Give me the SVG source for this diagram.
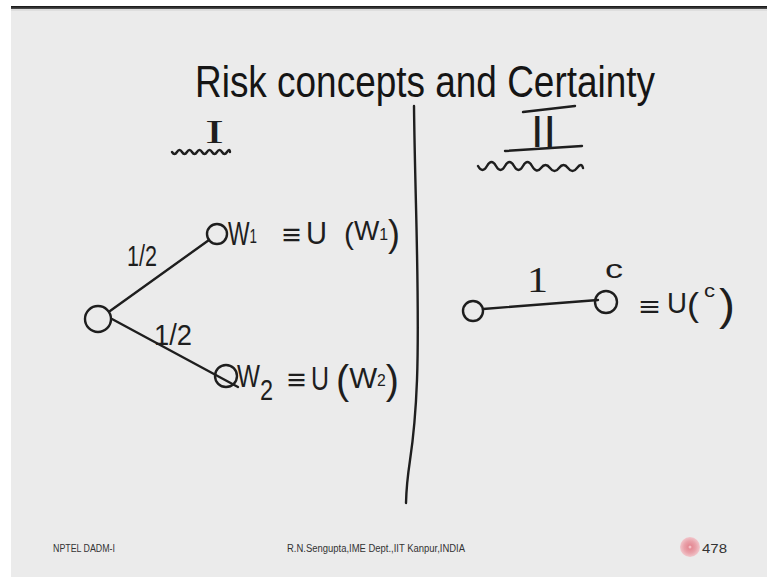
<svg xmlns="http://www.w3.org/2000/svg" width="767" height="578" viewBox="0 0 767 578">
<defs>
<style>
.ink{fill:none;stroke:#1e1e1e;stroke-width:2.4;stroke-linecap:round;stroke-linejoin:round}
.hw{font-family:"Liberation Sans","DejaVu Sans",sans-serif;fill:#1e1e1e}
.hs{font-family:"Liberation Serif","DejaVu Serif",serif;fill:#1e1e1e}
.ft{font-family:"Liberation Sans",Arial,sans-serif;fill:#333}
.tt{font-family:"Liberation Sans",Arial,sans-serif;fill:#151515;font-size:44px}
</style>
<radialGradient id="pg" cx="0.5" cy="0.5" r="0.5">
<stop offset="0" stop-color="#e27f8a"/>
<stop offset="0.6" stop-color="#e9a2aa"/>
<stop offset="1" stop-color="#f1c6cb"/>
</radialGradient>
<linearGradient id="tb" x1="0" y1="0" x2="0" y2="1">
<stop offset="0" stop-color="#111"/>
<stop offset="1" stop-color="#555"/>
</linearGradient>
</defs>
<rect x="0" y="0" width="767" height="578" fill="#ffffff"/>
<rect x="11" y="6" width="756" height="571" fill="#ebebeb"/>
<rect x="11" y="6" width="756" height="3" fill="url(#tb)"/>
<rect x="11" y="9" width="756" height="2" fill="#dedede"/>

<g id="title">
<text class="tt" x="195" y="97" textLength="460" lengthAdjust="spacingAndGlyphs">Risk concepts and Certainty</text>
</g>

<g id="divider">
<path class="ink" d="M414,106 C415,200 420,300 417,380 S407,460 406,503"/>
</g>

<g id="header-I">
<text class="hs" x="205" y="143" font-size="34" textLength="19" lengthAdjust="spacingAndGlyphs">I</text>
<path class="ink" stroke-width="1.8" d="M172,152 q2.5,4 5,0 t5,0 t5,0 t5,0 t5,0 t5,0 t5,0 t5,0 t5,0 t5,0 t5,0 t3,0"/>
</g>

<g id="header-II">
<text class="hw" x="531" y="147" font-size="44" textLength="25" lengthAdjust="spacingAndGlyphs">II</text>
<path class="ink" d="M523,112 L575,106"/>
<path class="ink" d="M505,151 L582,146"/>
<path class="ink" d="M478,166 q4.5,8 9,0 t9,0 t9,0 t9,0 t9,0 t9,0 t9,2 t9,0 t9,0 t9,0 t9,0 t6,0"/>
</g>

<g id="connectors">
<path class="ink" d="M110,311 L209,240"/>
<path class="ink" d="M112,319 L238,387"/>
<path class="ink" d="M483,309 L598,300"/>
</g>

<g id="label-p1">
<text class="hw" x="127" y="266" font-size="30" textLength="30" lengthAdjust="spacingAndGlyphs">1/2</text>
</g>
<g id="label-p2">
<text class="hw" x="154" y="345" font-size="30" textLength="38" lengthAdjust="spacingAndGlyphs">1/2</text>
</g>

<g id="root">
<ellipse class="ink" cx="98" cy="319" rx="13" ry="13"/>
</g>

<g id="node-w1">
<circle class="ink" cx="217" cy="234" r="10"/>
<text class="hw" x="228" y="245" font-size="34" textLength="29" lengthAdjust="spacingAndGlyphs">W<tspan font-size="20" dy="-2">1</tspan></text>
<text class="hw" x="282" y="245" font-size="30" textLength="19" lengthAdjust="spacingAndGlyphs">≡</text>
<text class="hw" x="306" y="244" font-size="32" textLength="21" lengthAdjust="spacingAndGlyphs">U</text>
<text class="hw" x="344" y="244" font-size="30" textLength="56" lengthAdjust="spacingAndGlyphs">(<tspan font-size="27" dy="-4">W</tspan><tspan font-size="16">1</tspan><tspan font-size="36" dy="6">)</tspan></text>
</g>

<g id="node-w2">
<circle class="ink" cx="226" cy="376" r="11"/>
<text class="hw" x="237" y="387" font-size="31" textLength="36" lengthAdjust="spacingAndGlyphs">W<tspan font-size="30" dy="13">2</tspan></text>
<text class="hw" x="287" y="390" font-size="30" textLength="19" lengthAdjust="spacingAndGlyphs">≡</text>
<text class="hw" x="311" y="390" font-size="34" textLength="18" lengthAdjust="spacingAndGlyphs">U</text>
<text class="hw" x="336" y="394" font-size="40" textLength="63" lengthAdjust="spacingAndGlyphs">(<tspan font-size="30" dy="-6">W</tspan><tspan font-size="16" dy="-2">2</tspan><tspan font-size="40" dy="8">)</tspan></text>
</g>

<g id="node-start">
<circle class="ink" cx="473" cy="311" r="10"/>
</g>
<g id="label-1">
<text class="hs" x="527" y="292" font-size="36" textLength="21" lengthAdjust="spacingAndGlyphs">1</text>
</g>
<g id="node-c">
<circle class="ink" cx="606" cy="302" r="11"/>
<text class="hw" x="605" y="278" font-size="26" textLength="18" lengthAdjust="spacingAndGlyphs">c</text>
<text class="hw" x="639" y="316" font-size="28" textLength="21" lengthAdjust="spacingAndGlyphs">≡</text>
<text class="hw" x="667" y="313" font-size="30" textLength="20" lengthAdjust="spacingAndGlyphs">U</text>
<text class="hw" x="687" y="316" font-size="34" textLength="12" lengthAdjust="spacingAndGlyphs">(</text>
<text class="hw" x="704" y="297" font-size="18" textLength="11" lengthAdjust="spacingAndGlyphs">c</text>
<text class="hw" x="719" y="320" font-size="44" textLength="16" lengthAdjust="spacingAndGlyphs">)</text>
</g>

<g id="footer">
<text class="ft" x="53" y="552" font-size="10" textLength="62" lengthAdjust="spacingAndGlyphs">NPTEL DADM-I</text>
<text class="ft" x="287" y="552" font-size="10" textLength="178" lengthAdjust="spacingAndGlyphs">R.N.Sengupta,IME Dept.,IIT Kanpur,INDIA</text>
<circle cx="690" cy="547" r="10" fill="url(#pg)"/>
<circle cx="690" cy="547" r="1.5" fill="#f4c0c6"/>
<text class="ft" x="702" y="553" font-size="13" textLength="25" lengthAdjust="spacingAndGlyphs" fill="#222">478</text>
</g>
</svg>
